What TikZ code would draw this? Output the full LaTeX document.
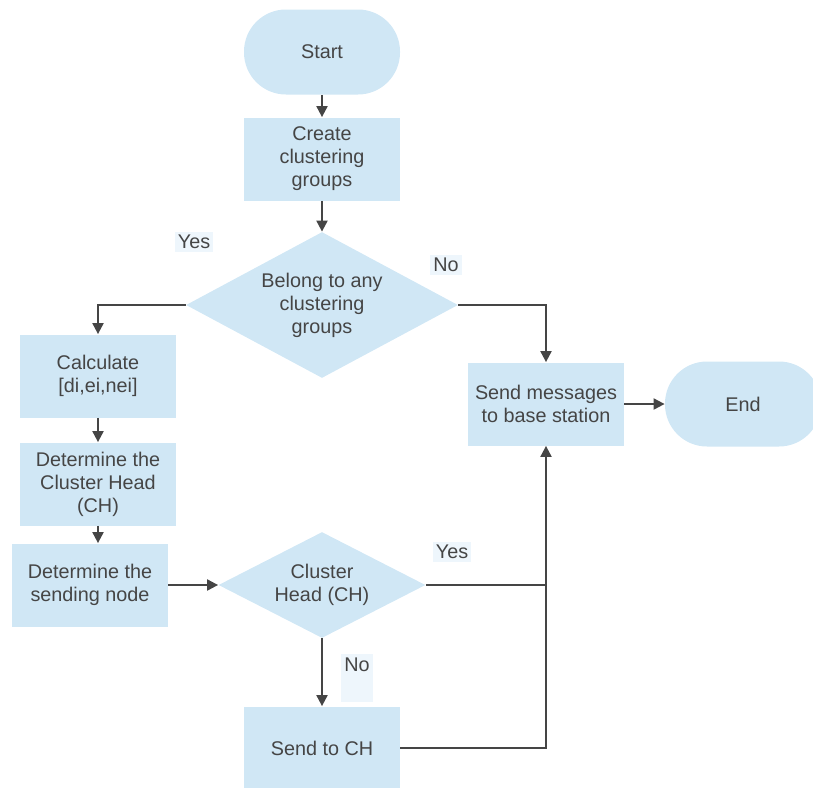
\documentclass[tikz,border=0pt]{standalone}
\usepackage{fontspec}
\setmainfont{Liberation Sans}
\usetikzlibrary{arrows.meta,shapes.geometric}
\definecolor{boxblue}{HTML}{D0E7F5}
\definecolor{lblblue}{HTML}{EEF6FC}
\definecolor{inkgray}{HTML}{454545}
\tikzset{
  terminal/.style={rectangle, rounded corners=21pt, fill=boxblue, minimum width=78pt, minimum height=42.5pt, text=inkgray, align=center},
  procbox/.style={rectangle, fill=boxblue, minimum width=78pt, minimum height=41.5pt, text=inkgray, align=center, inner sep=1pt},
  decision/.style={diamond, fill=boxblue, inner sep=0pt, text=inkgray, align=center},
  flowline/.style={draw=inkgray, line width=1pt, -{Triangle[length=5.5pt,width=5.5pt]}},
  lbl/.style={fill=lblblue, text=inkgray, inner sep=1.5pt}
}

\begin{document}
\begin{tikzpicture}[x=0.5pt,y=-0.5pt,every node/.style={font=\fontsize{9.9}{11.5}\selectfont}]
\useasboundingbox (0,0) rectangle (813,787);
\node[terminal] (start) at (322,52) {Start};
\node[procbox] (create) at (322,159) {Create\\clustering\\groups};
\node[decision, shape aspect=1.86, minimum width=136pt, minimum height=73pt] (belong) at (322,305) {Belong to any\\clustering\\groups};
\node[procbox] (calc) at (98,376) {Calculate\\{[di,ei,nei]}};
\node[procbox] (detch) at (98,484) {Determine the\\Cluster Head\\(CH)};
\node[procbox] (detsend) at (90,585) {Determine the\\sending node};
\node[decision, shape aspect=1.95, minimum width=103.5pt, minimum height=53pt] (ishead) at (322,585) {Cluster\\Head (CH)};
\node[procbox] (sendch) at (322,748) {Send to CH};
\node[procbox] (sendbs) at (546,404) {Send messages\\to base station};
\node[terminal] (end) at (743,404) {End};
% branch labels
\node[lbl] (yesa) at (194,242) {Yes};
\node[lbl] (noa) at (446,265) {No};
\node[lbl] (yesb) at (452,552) {Yes};
\node[lbl, anchor=base, text depth=14pt] (nob) at (357,671) {No};
% connectors
\draw[flowline] (start) -- (create);
\draw[flowline] (create) -- (belong);
\draw[flowline] (belong.west) -| (calc.north);
\draw[flowline] (belong.east) -| (sendbs.north);
\draw[flowline] (calc) -- (detch);
\draw[flowline] (detch.south) -- (detch.south |- detsend.north);
\draw[flowline] (detsend) -- (ishead);
\draw[flowline] (ishead) -- (sendch);
\draw[draw=inkgray, line width=1pt] (ishead.east) -- (ishead.east -| sendbs.south);
\draw[flowline] (sendch.east) -| (sendbs.south);
\draw[flowline] (sendbs) -- (end);
\end{tikzpicture}
\end{document}
